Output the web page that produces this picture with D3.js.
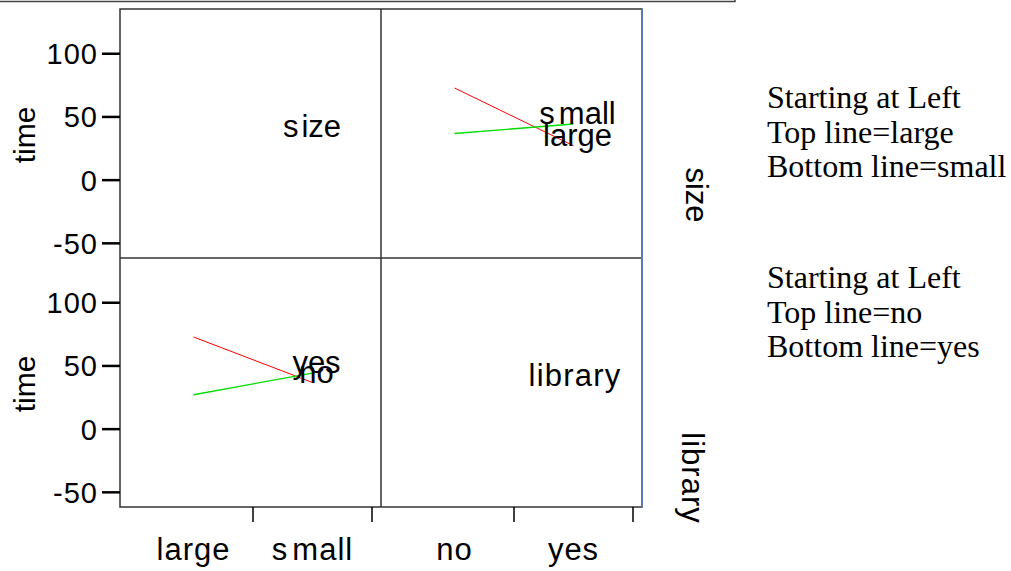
<!DOCTYPE html>
<html>
<head>
<meta charset="utf-8">
<script src="https://cdn.jsdelivr.net/npm/d3@7"></script>
<style>
  html, body { margin: 0; padding: 0; background: #fff; }
  svg { display: block; }
  .sans { font-family: "Liberation Sans", Arial, sans-serif; fill: #000; }
  .serif { font-family: "Liberation Serif", "Times New Roman", serif; fill: #000; }
</style>
</head>
<body>
<svg id="chart" width="1011" height="571"></svg>
<script>
// Cell means of time for each size × library combination
const sizeLevels = ["large", "small"];
const libraryLevels = ["no", "yes"];
const timeLarge = [72.5, 26.8];   // large: library = no, yes
const timeSmall = [36.5, 44.0];   // small: library = no, yes
const timeNo = [72.5, 36.5];      // library no: size = large, small
const timeYes = [26.8, 44.0];     // library yes: size = large, small
const yTicks = [-50, 0, 50, 100];
const notesSize = ["Starting at Left", "Top line=large", "Bottom line=small"];
const notesLibrary = ["Starting at Left", "Top line=no", "Bottom line=yes"];

const svg = d3.select("#chart");

// frame edge along the top
svg.append("path")
  .attr("d", "M0,1.5H735V0")
  .attr("fill", "none").attr("stroke", "#444").attr("stroke-width", 1.5);

const L = 120, M = 381, R = 642, T = 9, MID = 258, B = 507;
const yTop = d3.scaleLinear().domain([-62, 135]).range([MID, T]);
const yBot = d3.scaleLinear().domain([-62, 135]).range([B, MID]);
const xLeft = d3.scaleBand().domain(sizeLevels).range([L + 14, M - 9]);
const xRight = d3.scaleBand().domain(libraryLevels).range([M + 14, R - 9]);

const lineColors = ["#ff0000", "#00dd00"];

// panel grid
const grid = svg.append("g").attr("fill", "none");
grid.append("rect").attr("x", L).attr("y", T).attr("width", R - L).attr("height", B - T)
  .attr("stroke", "#333").attr("stroke-width", 1.5);
grid.append("line").attr("x1", M).attr("x2", M).attr("y1", T).attr("y2", B)
  .attr("stroke", "#333").attr("stroke-width", 1.5);
grid.append("line").attr("x1", L).attr("x2", R).attr("y1", MID).attr("y2", MID)
  .attr("stroke", "#333").attr("stroke-width", 1.5);
grid.append("line").attr("x1", R).attr("x2", R).attr("y1", T).attr("y2", B)
  .attr("stroke", "#5a79ad").attr("stroke-width", 2);

// y axes
function yAxis(scale) {
  const g = svg.append("g").attr("transform", `translate(${L},0)`)
    .call(d3.axisLeft(scale).tickValues(yTicks).tickSize(18).tickPadding(4).tickFormat(d => String(d)));
  g.select(".domain").remove();
  g.selectAll(".tick line").attr("stroke", "#000").attr("stroke-width", 2.5);
  g.selectAll(".tick text").attr("class", "sans").attr("font-size", 29)
    .attr("letter-spacing", 1).attr("fill", "#000").attr("dy", "0.36em");
  return g;
}
yAxis(yTop);
yAxis(yBot);

svg.append("text").attr("class", "sans").attr("font-size", 30).attr("text-anchor", "middle")
  .attr("transform", "translate(35,135) rotate(-90)").text("time");
svg.append("text").attr("class", "sans").attr("font-size", 30).attr("text-anchor", "middle")
  .attr("transform", "translate(35,384) rotate(-90)").text("time");

// x axes: tick marks at band ends, labels at band centres
function xAxis(scale) {
  const ends = scale.domain().map(d => scale(d) + scale.bandwidth());
  svg.append("g").selectAll("line").data(ends).join("line")
    .attr("x1", d => d).attr("x2", d => d).attr("y1", B).attr("y2", B + 15)
    .attr("stroke", "#000").attr("stroke-width", 1.5);
}
xAxis(xLeft);
xAxis(xRight);

// text with a wider gap after its first letter
function gapText(sel, word, gap) {
  sel.append("tspan").text(word.slice(0, 1));
  sel.append("tspan").attr("dx", gap).text(word.slice(1));
  return sel;
}

function catLabel(x, y, word) {
  const t = svg.append("text").attr("class", "sans").attr("font-size", 31)
    .attr("letter-spacing", 1).attr("text-anchor", "middle").attr("x", x).attr("y", y);
  if (word === "small") gapText(t, word, 4); else t.text(word);
  return t;
}
sizeLevels.forEach(d => catLabel(xLeft(d) + xLeft.bandwidth() / 2, 560, d));
libraryLevels.forEach(d => catLabel(xRight(d) + xRight.bandwidth() / 2, 560, d));

// diagonal panel names
gapText(svg.append("text").attr("class", "sans").attr("font-size", 31)
  .attr("text-anchor", "middle").attr("x", 312).attr("y", 137), "size", 3);
svg.append("text").attr("class", "sans").attr("font-size", 31).attr("letter-spacing", 1.2)
  .attr("text-anchor", "middle").attr("x", 575).attr("y", 386).text("library");

// right-hand strip labels
svg.append("text").attr("class", "sans").attr("font-size", 31).attr("text-anchor", "middle")
  .attr("transform", "translate(686,195) rotate(90)").text("size");
svg.append("text").attr("class", "sans").attr("font-size", 31).attr("letter-spacing", 1)
  .attr("text-anchor", "middle").attr("transform", "translate(682,478) rotate(90)").text("library");

// interaction lines, each labelled at its right-hand end
function profile(xs, ys, levels, series, names) {
  const line = d3.line().x(d => xs(d.level) + xs.bandwidth() / 2).y(d => ys(d.value));
  series.forEach((vals, i) => {
    const pts = levels.map((lv, j) => ({ level: lv, value: vals[j] }));
    svg.append("path").datum(pts).attr("d", line).attr("fill", "none")
      .attr("stroke", lineColors[i]).attr("stroke-width", i === 0 ? 1 : 1.3);
  });
  series.forEach((vals, i) => {
    const last = levels[levels.length - 1];
    const t = svg.append("text").attr("class", "sans").attr("font-size", 31)
      .attr("text-anchor", "middle")
      .attr("x", xs(last) + xs.bandwidth() / 2 + 4)
      .attr("y", ys(vals[vals.length - 1]));
    if (names[i] === "small") gapText(t, names[i], 4); else t.text(names[i]);
  });
}
profile(xRight, yTop, libraryLevels, [timeLarge, timeSmall], sizeLevels);
profile(xLeft, yBot, sizeLevels, [timeNo, timeYes], libraryLevels);

// notes on line order
function notes(lines, y0) {
  svg.append("g").selectAll("text").data(lines).join("text")
    .attr("class", "serif").attr("font-size", 32)
    .attr("x", 767).attr("y", (d, i) => y0 + i * 34.5).text(d => d);
}
notes(notesSize, 108);
notes(notesLibrary, 288);
</script>
</body>
</html>
